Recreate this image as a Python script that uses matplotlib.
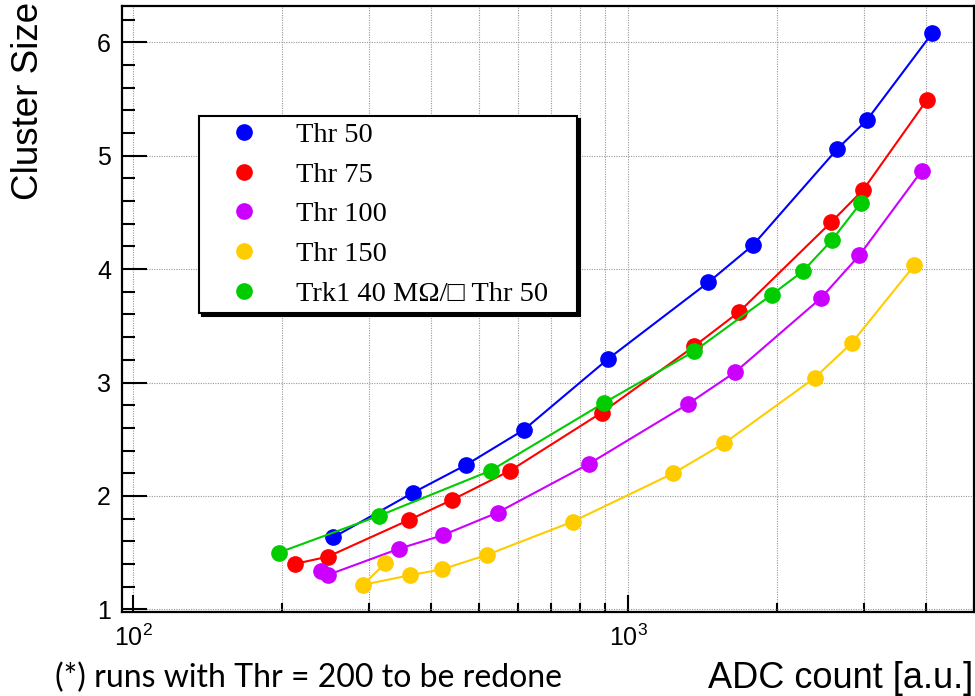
import matplotlib
matplotlib.use("Agg")
import matplotlib.pyplot as plt
from matplotlib.ticker import MultipleLocator, LogLocator, NullFormatter, FixedLocator, FixedFormatter
from matplotlib.font_manager import FontProperties
from matplotlib.lines import Line2D

plt.rcParams['font.family'] = ['Liberation Sans', 'DejaVu Sans']

# ---- data ----
thr50_x = [254, 368, 471, 616, 912, 1453, 1786, 2648, 3036, 4113]
thr50_y = [1.635, 2.029, 2.274, 2.583, 3.209, 3.883, 4.209, 5.060, 5.312, 6.078]

thr75_x = [212, 247.5, 361, 441, 578, 885, 1359, 1678, 2571, 2989, 4013]
thr75_y = [1.400, 1.464, 1.788, 1.965, 2.223, 2.735, 3.318, 3.624, 4.412, 4.701, 5.489]

thr100_x = [240, 247.5, 345, 422, 545, 833, 1320, 1647, 2454, 2933, 3925]
thr100_y = [1.341, 1.303, 1.535, 1.653, 1.853, 2.282, 2.809, 3.092, 3.745, 4.121, 4.869]

thr150_x = [323, 292, 362, 421, 518, 773, 1235, 1565, 2383, 2831, 3788]
thr150_y = [1.406, 1.217, 1.300, 1.353, 1.479, 1.773, 2.200, 2.465, 3.041, 3.348, 4.033]

trk1_x = [197, 314.5, 528, 896, 1359, 1951, 2254, 2579, 2952]
trk1_y = [1.500, 1.826, 2.223, 2.823, 3.274, 3.774, 3.980, 4.253, 4.583]

series = [
    ("Thr 50", thr50_x, thr50_y, "#0000ff"),
    ("Thr 75", thr75_x, thr75_y, "#ff0000"),
    ("Thr 100", thr100_x, thr100_y, "#cc00ff"),
    ("Thr 150", thr150_x, thr150_y, "#ffcc00"),
    ("Trk1 40 M\u03a9/\u25a1 Thr 50", trk1_x, trk1_y, "#00cc00"),
]

x_label = "ADC count [a.u.]"
y_label = "Cluster Size"
footnote = "(*) runs with Thr = 200 to be redone"

fig = plt.figure(figsize=(9.75, 6.96), dpi=100)
ax = fig.add_axes([122/975, 1-611.7/696, (974-122)/975, (611.7-6)/696])

for label, xs, ys, c in series:
    ax.plot(xs, ys, '-', color=c, lw=1.5, marker='o', ms=11, mec=c, mfc=c, zorder=3)

ax.set_xscale('log')
ax.set_xlim(95, 5000)
ax.set_ylim(0.979, 6.32)

ax.xaxis.set_major_locator(FixedLocator([100, 1000]))
ax.xaxis.set_major_formatter(FixedFormatter([r'$\mathdefault{10^{2}}$', r'$\mathdefault{10^{3}}$']))
ax.xaxis.set_minor_locator(LogLocator(base=10, subs=[2, 3, 4, 5, 6, 7, 8, 9], numticks=20))
ax.xaxis.set_minor_formatter(NullFormatter())
ax.yaxis.set_major_locator(MultipleLocator(1))
ax.yaxis.set_minor_locator(MultipleLocator(0.2))

ax.tick_params(axis='both', which='both', direction='in', top=False, right=False, width=1.5, colors='black')
ax.tick_params(axis='x', which='major', length=12, pad=9, labelsize=18)
ax.tick_params(axis='x', which='minor', length=6.5)
ax.tick_params(axis='y', which='major', length=18, pad=8, labelsize=18)
ax.tick_params(axis='y', which='minor', length=9)

for s in ax.spines.values():
    s.set_linewidth(1.6)
    s.set_color('black')

ax.grid(True, which='major', axis='both', linestyle=(0, (1, 1.2)), color='#999999', lw=0.8, zorder=0)
ax.grid(True, which='minor', axis='x', linestyle=(0, (1, 1.2)), color='#999999', lw=0.8, zorder=0)
ax.set_axisbelow(True)

handles = [Line2D([], [], ls='none', marker='o', ms=11, color=c) for _, _, _, c in series]
labels = [s[0] for s in series]
leg = ax.legend(handles, labels, loc='upper left',
                bbox_to_anchor=((199-122)/852, (611.7-116)/605.7, 378/852, 0.0),
                mode='expand', borderaxespad=0, frameon=True, fancybox=False,
                edgecolor='black', framealpha=1, shadow={'color': 'black', 'alpha': 1},
                prop=FontProperties(family=['Liberation Serif', 'DejaVu Sans'], size=20.5),
                borderpad=0.22, handlelength=2.75, handletextpad=0.42, labelspacing=0.48)
leg.get_frame().set_linewidth(1.5)

fig.text(29/975, 1-2/696, y_label, rotation=90, ha='center', va='top', fontsize=26.5)
fig.text(973/975, 1-688/696, x_label, ha='right', va='baseline', fontsize=26)
fig.text(55/975, 1-687/696, footnote, ha='left', va='baseline', fontsize=23,
         family=['Lato', 'DejaVu Sans'])

fig.savefig('out.png', dpi=100)
